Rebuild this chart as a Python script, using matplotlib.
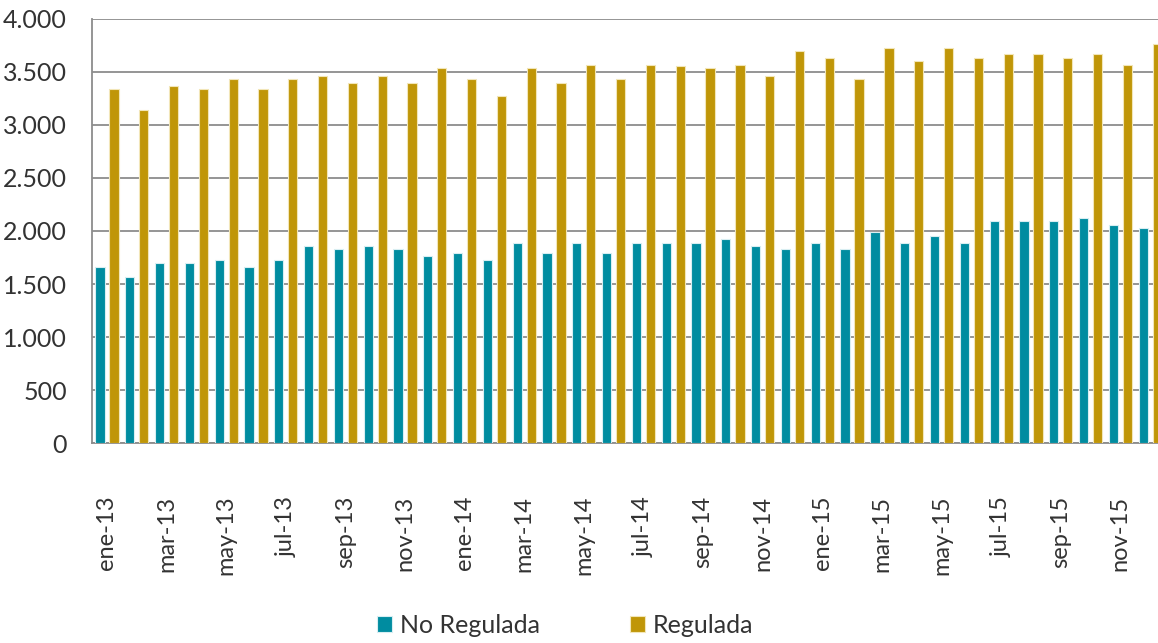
import numpy as np
import matplotlib
matplotlib.use("Agg")
import matplotlib.pyplot as plt
from matplotlib.ticker import FuncFormatter

# monthly values, ene-13 .. dic-15
months = ["ene", "feb", "mar", "abr", "may", "jun", "jul", "ago", "sep", "oct", "nov", "dic"]
labels = [f"{m}-{y}" for y in ("13", "14", "15") for m in months]

no_regulada = [1660, 1565, 1695, 1695, 1725, 1660, 1730, 1860, 1830, 1860, 1830, 1760,
               1795, 1725, 1890, 1795, 1890, 1795, 1890, 1890, 1890, 1925, 1860, 1830,
               1890, 1830, 1990, 1890, 1955, 1890, 2090, 2090, 2090, 2120, 2055, 2025]
regulada = [3335, 3140, 3365, 3335, 3435, 3335, 3435, 3465, 3400, 3465, 3400, 3535,
            3435, 3270, 3535, 3400, 3565, 3435, 3565, 3560, 3535, 3565, 3465, 3695,
            3630, 3435, 3730, 3600, 3730, 3630, 3665, 3665, 3630, 3665, 3565, 3760]

teal = "#008ca0"
gold = "#c09608"
plt.rcParams['font.family'] = ['Lato', 'DejaVu Sans']

fig = plt.figure(figsize=(11.58, 6.43), dpi=100)
ax = fig.add_axes([0.0795, 0.311, 0.9266, 0.6595])

x = np.arange(len(labels))
off = 0.235
w = 0.31
ax.bar(x - off, no_regulada, width=w, color=teal, edgecolor="#d8eef2", linewidth=0.8,
       label="No Regulada", zorder=3)
ax.bar(x + off, regulada, width=w, color=gold, edgecolor="#f2e6b8", linewidth=0.8,
       label="Regulada", zorder=3)

ax.set_xlim(-0.5, len(labels) - 0.5)
ax.set_ylim(0, 4000)
ax.set_yticks(np.arange(0, 4001, 500))
ax.yaxis.set_major_formatter(FuncFormatter(lambda v, p: f"{v:,.0f}".replace(",", ".")))
ax.grid(axis="y", color="#8c8c8c", linewidth=1.3, zorder=0)

ax.set_xticks(x[::2])
ax.set_xticklabels(labels[::2], rotation=90, va="top", ha="center")

for s in ("top", "right"):
    ax.spines[s].set_visible(False)
for s in ("left", "bottom"):
    ax.spines[s].set_color("#8c8c8c")
    ax.spines[s].set_linewidth(1.3)

ax.tick_params(axis="y", length=0, pad=18, labelsize=18, labelcolor="#333333")
ax.tick_params(axis="x", length=0, pad=38, labelsize=17, labelcolor="#333333")

fig.legend(loc="lower center", bbox_to_anchor=(0.488, -0.025), ncol=2, frameon=False,
           fontsize=18, handlelength=0.6, handleheight=0.6, handletextpad=0.3,
           columnspacing=3.6, labelcolor="#333333")

fig.savefig("out.png", dpi=100)
